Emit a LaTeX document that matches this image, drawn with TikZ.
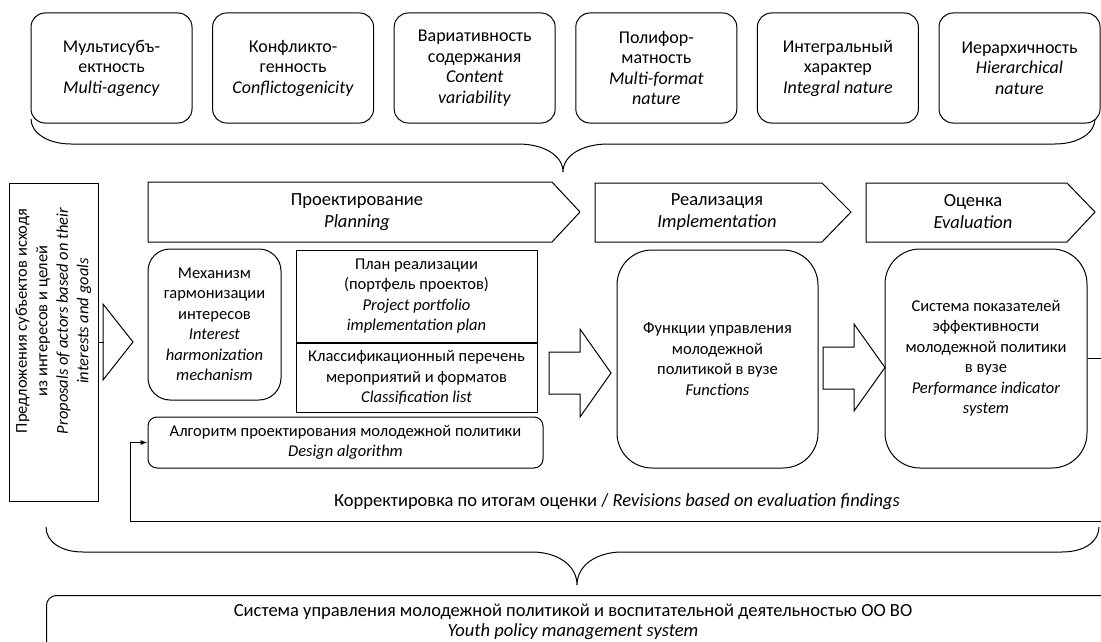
\documentclass[tikz,border=0pt]{standalone}
\usepackage{fontspec}
\setmainfont{Carlito}
\usetikzlibrary{arrows.meta,positioning}

\begin{document}
\begin{tikzpicture}[x=1pt,y=-1pt,line width=1pt,
    lbl/.style={align=center,inner sep=0pt,font=\fontsize{16.5}{20.5}\selectfont},
    biglbl/.style={align=center,inner sep=0pt,font=\fontsize{18.5}{22}\selectfont},
    featbox/.style={draw,rounded corners=14pt,minimum width=161pt,minimum height=110pt,
        align=center,inner sep=0pt,font=\fontsize{18}{20.5}\selectfont},
    plainbox/.style={draw,lbl,minimum width=241pt}]
    \clip (0,0) rectangle (1101,642);

    % Features of the youth policy
    \node[featbox] (f1) at (111.5,68) {Мультисубъ-\\ектность\\\textit{Multi-agency}};
    \node[featbox,right=19.6pt of f1] (f2) {Конфликто-\\генность\\\textit{Conflictogenicity}};
    \node[featbox,right=19.6pt of f2] (f3) {Вариативность\\содержания\\\textit{Content}\\\textit{variability}};
    \node[featbox,right=19.6pt of f3] (f4) {Полифор-\\матность\\\textit{Multi-format}\\\textit{nature}};
    \node[featbox,right=19.6pt of f4] (f5) {Интегральный\\характер\\\textit{Integral nature}};
    \node[featbox,right=19.6pt of f5] (f6) {Иерархичность\\\textit{Hierarchical}\\\textit{nature}};

    % Upper brace
    \draw (31,119) .. controls (31,133) and (48,144) .. (71,144) -- (518,144)
        .. controls (543,144) and (563,155) .. (563,172)
        .. controls (563,155) and (583,144) .. (608,144) -- (1055,144)
        .. controls (1078,144) and (1095,133) .. (1095,119);

    % Input from actors
    \node[draw,minimum width=89pt,minimum height=318pt] (prop) at (53.5,342) {};
    \node[lbl,rotate=90] (proptxt) at (53.5,321) {Предложения субъектов исходя\\из интересов и целей\\\textit{Proposals of actors based on their}\\\textit{interests and goals}};
    \draw (prop.east) -- ++(5,0);
    \draw (103,304) -- (133,342) -- (103,380) -- cycle;

    % Stages
    \draw (148,182) -- (552,182) -- (580,212) -- (552,242) -- (148,242) -- cycle;
    \node[biglbl] (plan) at (357,212) {Проектирование\\\textit{Planning}};
    \draw (595,183) -- (822,183) -- (851,212) -- (822,242) -- (595,242) -- cycle;
    \node[biglbl] (impl) at (717,212) {Реализация\\\textit{Implementation}};
    \draw (866,183) -- (1067,183) -- (1095,212) -- (1067,242) -- (866,242) -- cycle;
    \node[biglbl] (evl) at (973,212) {Оценка\\\textit{Evaluation}};

    % Planning blocks
    \node[draw,rounded corners=22pt,lbl,minimum width=133pt,minimum height=151pt] (mech) at (214.5,324.5)
        {Механизм\\гармонизации\\интересов\\\textit{Interest}\\\textit{harmonization}\\\textit{mechanism}};
    \node[plainbox,minimum height=92pt] (portf) at (416.5,296)
        {План реализации\\(портфель проектов)\\\textit{Project portfolio}\\\textit{implementation plan}};
    \node[plainbox,minimum height=69pt,below=0pt of portf] (clist)
        {Классификационный перечень\\мероприятий и форматов\\\textit{Classification list}};
    \node[draw,rounded corners=9pt,lbl,minimum width=395pt,minimum height=51pt] (algo) at (345.5,442.5)
        {Алгоритм проектирования молодежной политики\\\textit{Design algorithm}};

    % Block arrows
    \draw (549,352) -- (580,352) -- (580,329) -- (611,373) -- (580,417) -- (580,394) -- (549,394) -- cycle;
    \draw (823,347) -- (854,347) -- (854,324) -- (885,367.5) -- (854,411) -- (854,389) -- (823,389) -- cycle;

    % Implementation and evaluation
    \node[draw,rounded corners=35pt,lbl,minimum width=201pt,minimum height=218pt] (func) at (717.5,359)
        {Функции управления\\молодежной\\политикой в вузе\\\textit{Functions}};
    \node[draw,rounded corners=35pt,lbl,minimum width=202pt,minimum height=219pt] (eval) at (986,358.5)
        {Система показателей\\эффективности\\молодежной политики\\в вузе\\\textit{Performance indicator}\\\textit{system}};

    % Feedback loop
    \draw[-{Latex[length=7pt,width=5pt]}] (eval.east) -| (1110,521) -| (130,442.5) -- (algo.west);
    \node[biglbl] (fbtxt) at (617,502) {Корректировка по итогам оценки / \textit{Revisions based on evaluation findings}};

    % Lower brace
    \draw (46,527) .. controls (46,541) and (60,552) .. (83,552) -- (532,552)
        .. controls (557,552) and (577,565) .. (577,585)
        .. controls (577,565) and (597,552) .. (622,552) -- (1062,552)
        .. controls (1085,552) and (1099,541) .. (1099,527);

    % Management system
    \node[draw,rounded corners=10pt,minimum width=1064pt,minimum height=80pt,anchor=north west] (sys) at (46,595) {};
    \node[biglbl,font=\fontsize{18.5}{20}\selectfont] (systxt) at (573,622) {Система управления молодежной политикой и воспитательной деятельностью ОО ВО\\\textit{Youth policy management system}};
\end{tikzpicture}
\end{document}
